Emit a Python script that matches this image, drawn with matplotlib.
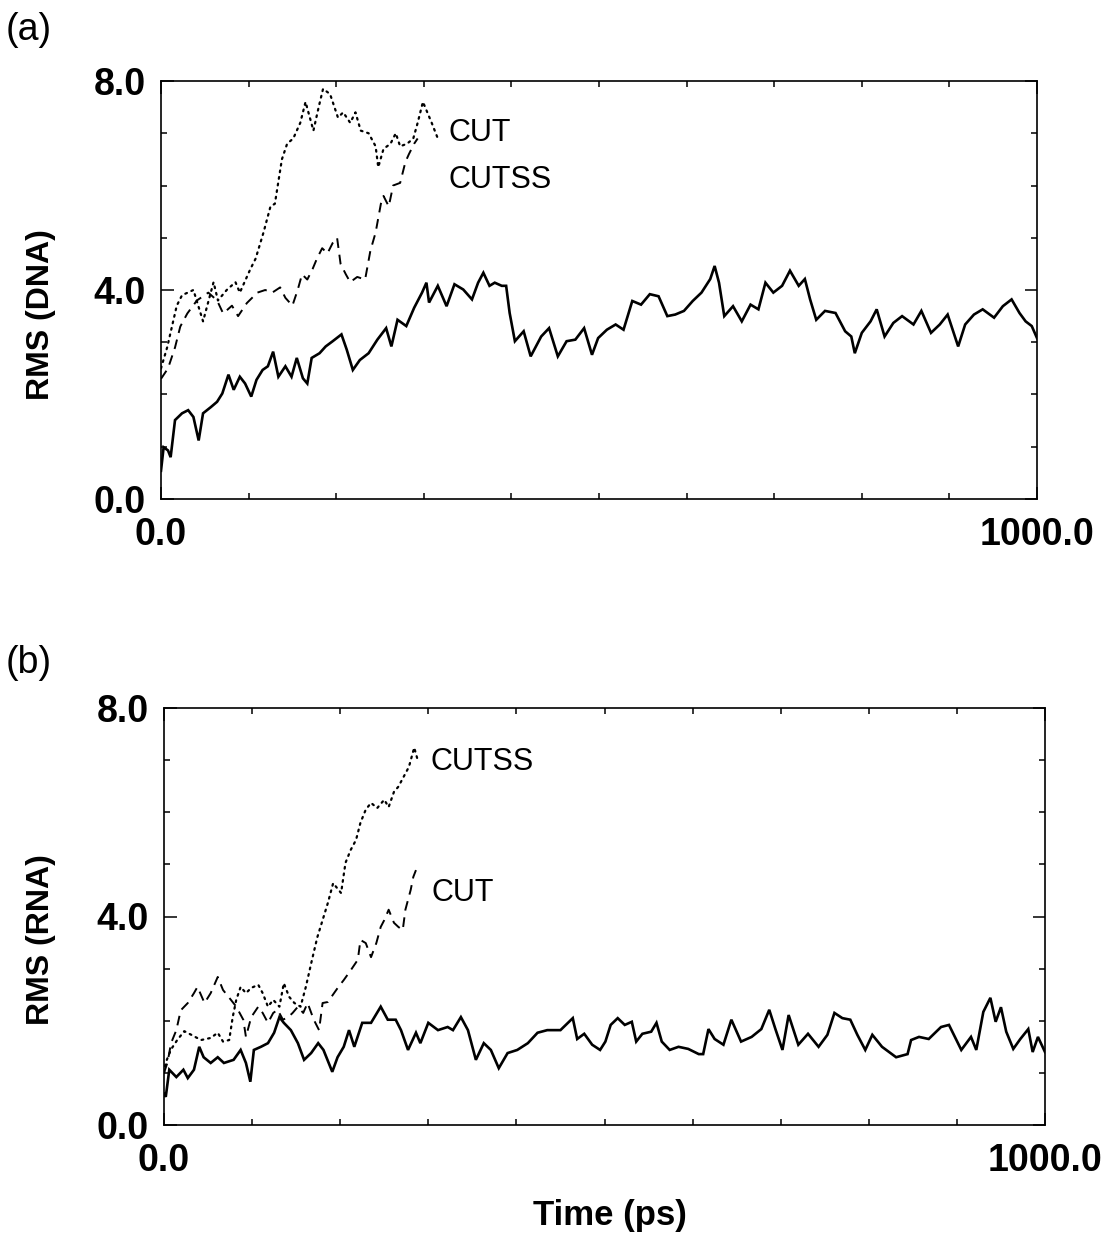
import matplotlib
matplotlib.use("Agg")
import matplotlib.pyplot as plt
from matplotlib.ticker import MultipleLocator, FixedLocator, FixedFormatter

plt.rcParams['font.family'] = ['Liberation Sans', 'DejaVu Sans']

# ---------------- Panel (a): DNA ----------------
a_solid_t = [0, 3, 8, 11, 16, 24, 31, 37, 43, 48, 57, 64, 70, 77, 83, 90, 96, 103, 109, 116,
             122, 128, 134, 142, 149, 155, 162, 167, 172, 181, 188, 196, 206, 212, 219, 227,
             237, 247, 257, 263, 270, 280, 289, 298, 303, 306, 316, 326, 335, 345, 355, 362,
             368, 375, 381, 389, 394, 398, 404, 414, 422, 434, 443, 453, 463, 473, 483, 492,
             499, 509, 519, 528, 538, 548, 558, 568, 578, 587, 597, 607, 617, 627, 632, 637,
             643, 653, 663, 673, 682, 690, 699, 709, 718, 728, 735, 741, 748, 758, 770, 781,
             788, 792, 800, 810, 817, 826, 836, 846, 859, 868, 879, 889, 898, 910, 918, 928,
             938, 951, 961, 971, 980, 987, 994, 1000]
a_solid_v = [0.54, 0.99, 0.93, 0.80, 1.51, 1.64, 1.70, 1.57, 1.12, 1.64, 1.76, 1.86, 2.02, 2.38,
             2.09, 2.34, 2.21, 1.96, 2.28, 2.47, 2.54, 2.82, 2.34, 2.54, 2.34, 2.70, 2.31, 2.21,
             2.70, 2.79, 2.92, 3.02, 3.15, 2.86, 2.47, 2.66, 2.79, 3.05, 3.27, 2.92, 3.43, 3.31,
             3.66, 3.95, 4.14, 3.76, 4.08, 3.69, 4.11, 4.01, 3.82, 4.14, 4.33, 4.08, 4.14, 4.08,
             4.08, 3.56, 3.02, 3.21, 2.73, 3.11, 3.27, 2.73, 3.02, 3.05, 3.27, 2.76, 3.08, 3.24,
             3.34, 3.24, 3.79, 3.72, 3.92, 3.88, 3.50, 3.53, 3.60, 3.79, 3.95, 4.21, 4.46, 4.14,
             3.50, 3.69, 3.40, 3.72, 3.63, 4.14, 3.95, 4.08, 4.37, 4.08, 4.21, 3.82, 3.43, 3.60,
             3.56, 3.21, 3.11, 2.79, 3.18, 3.40, 3.63, 3.11, 3.37, 3.50, 3.34, 3.60, 3.18, 3.34,
             3.53, 2.92, 3.34, 3.53, 3.63, 3.47, 3.69, 3.82, 3.56, 3.40, 3.31, 3.08]

a_cut_t = [0, 7, 18, 24, 37, 48, 60, 65, 75, 85, 90, 102, 108, 117, 125, 130, 138, 144, 151,
           159, 165, 174, 180, 185, 193, 202, 208, 216, 222, 228, 237, 245, 248, 254, 262, 268,
           273, 281, 288, 293, 299, 304, 309, 316]
a_cut_v = [2.5, 2.9, 3.7, 3.9, 4.0, 3.4, 4.15, 3.8, 4.0, 4.15, 3.95, 4.4, 4.6, 5.1, 5.6, 5.65,
           6.5, 6.8, 6.9, 7.2, 7.6, 7.05, 7.5, 7.85, 7.75, 7.3, 7.4, 7.2, 7.4, 7.05, 7.0, 6.75,
           6.35, 6.7, 6.8, 7.0, 6.75, 6.8, 6.9, 7.2, 7.6, 7.4, 7.2, 6.9]

a_cutss_t = [0, 8, 16, 22, 30, 41, 54, 64, 71, 81, 88, 98, 110, 119, 127, 136, 142, 150, 156,
             161, 167, 173, 178, 184, 190, 196, 201, 205, 211, 216, 224, 233, 239, 245, 251,
             254, 260, 265, 273, 279, 283, 289, 293]
a_cutss_v = [2.3, 2.5, 2.9, 3.3, 3.55, 3.8, 3.95, 3.8, 3.55, 3.7, 3.5, 3.75, 3.95, 4.0, 3.95,
             4.05, 3.85, 3.7, 4.0, 4.3, 4.2, 4.4, 4.6, 4.8, 4.7, 4.9, 5.0, 4.5, 4.3, 4.15, 4.25,
             4.2, 4.75, 5.1, 5.65, 5.8, 5.6, 6.0, 6.05, 6.45, 6.6, 6.8, 6.9]

# ---------------- Panel (b): RNA ----------------
b_solid_t = [0, 2, 6, 14, 22, 27, 34, 40, 45, 53, 61, 68, 79, 87, 93, 98, 102, 110, 118, 125,
             131, 136, 144, 152, 159, 167, 175, 181, 191, 197, 204, 210, 216, 225, 235, 246,
             254, 263, 269, 277, 286, 291, 300, 311, 322, 328, 337, 345, 354, 363, 371, 380,
             390, 401, 413, 424, 435, 450, 464, 469, 477, 486, 495, 501, 507, 515, 523, 531,
             536, 543, 553, 559, 565, 574, 584, 595, 607, 612, 618, 625, 635, 644, 655, 667,
             678, 687, 694, 702, 709, 720, 731, 743, 753, 761, 770, 779, 787, 796, 804, 815,
             831, 844, 848, 857, 868, 882, 891, 905, 916, 922, 930, 938, 944, 950, 956, 964,
             972, 981, 986, 992, 1000]
b_solid_v = [0.6, 0.54, 1.06, 0.92, 1.06, 0.90, 1.06, 1.50, 1.30, 1.19, 1.30, 1.19, 1.25, 1.44,
             1.19, 0.83, 1.44, 1.50, 1.57, 1.77, 2.07, 1.96, 1.82, 1.57, 1.25, 1.38, 1.57, 1.44,
             1.02, 1.30, 1.50, 1.82, 1.50, 1.96, 1.96, 2.27, 2.02, 2.02, 1.82, 1.44, 1.77, 1.57,
             1.96, 1.82, 1.88, 1.82, 2.07, 1.82, 1.25, 1.57, 1.44, 1.09, 1.38, 1.44, 1.57, 1.77,
             1.82, 1.82, 2.05, 1.65, 1.75, 1.54, 1.44, 1.60, 1.92, 2.05, 1.92, 1.98, 1.60, 1.75,
             1.79, 1.96, 1.60, 1.44, 1.50, 1.46, 1.36, 1.36, 1.84, 1.65, 1.54, 2.02, 1.60, 1.69,
             1.84, 2.21, 1.84, 1.44, 2.11, 1.54, 1.75, 1.50, 1.73, 2.15, 2.05, 2.02, 1.73, 1.44,
             1.73, 1.50, 1.30, 1.36, 1.63, 1.69, 1.65, 1.88, 1.92, 1.44, 1.69, 1.44, 2.17, 2.44,
             1.98, 2.26, 1.79, 1.46, 1.65, 1.84, 1.40, 1.69, 1.40]

b_cutss_t = [0, 2, 8, 15, 23, 31, 42, 53, 61, 67, 74, 78, 82, 87, 93, 99, 107, 112, 118, 124,
             131, 136, 142, 148, 155, 161, 168, 174, 180, 186, 192, 201, 206, 212, 218, 223,
             229, 235, 242, 250, 255, 261, 266, 272, 278, 284, 288]
b_cutss_v = [1.0, 1.2, 1.45, 1.63, 1.8, 1.73, 1.63, 1.67, 1.77, 1.6, 1.63, 2.07, 2.4, 2.65,
             2.53, 2.63, 2.69, 2.53, 2.27, 2.4, 2.27, 2.72, 2.46, 2.34, 2.27, 2.65, 3.17, 3.6,
             3.93, 4.26, 4.64, 4.45, 5.03, 5.28, 5.47, 5.8, 6.05, 6.18, 6.08, 6.24, 6.1, 6.39,
             6.49, 6.68, 6.87, 7.24, 7.0]

b_cut_t = [0, 4, 8, 14, 19, 27, 34, 38, 46, 53, 61, 67, 76, 82, 90, 93, 99, 107, 112, 118,
           124, 129, 135, 141, 146, 152, 158, 163, 170, 176, 180, 186, 193, 198, 204, 212, 220,
           223, 229, 235, 241, 246, 250, 255, 261, 266, 271, 274, 280, 283, 286]
b_cut_v = [1.0, 1.2, 1.57, 1.82, 2.2, 2.34, 2.53, 2.65, 2.34, 2.53, 2.84, 2.59, 2.4, 2.27,
           2.02, 1.69, 2.07, 2.27, 2.15, 1.96, 2.15, 2.21, 2.02, 2.07, 2.15, 2.27, 2.15, 2.34,
           2.02, 1.82, 2.34, 2.36, 2.53, 2.65, 2.78, 2.97, 3.17, 3.55, 3.49, 3.22, 3.49, 3.8,
           3.93, 4.13, 3.88, 3.8, 3.74, 4.13, 4.51, 4.76, 4.89]

x_ticklabels = ["0.0", "1000.0"]
y_ticklabels = ["0.0", "4.0", "8.0"]

W, H = 1111, 1238
fig = plt.figure(figsize=(W / 100, H / 100), dpi=100)

def frac(l, t, r, b):
    return [l / W, 1 - b / H, (r - l) / W, (b - t) / H]

ax_a = fig.add_axes(frac(161, 81, 1037, 499))
ax_b = fig.add_axes(frac(164, 708, 1045, 1125))

solid_kw = dict(color='black', lw=1.9, solid_joinstyle='miter')
dot_kw = dict(color='black', lw=1.6, linestyle=(0, (0.8, 2.2)), dash_capstyle='round')
dash_kw = dict(color='black', lw=1.4, linestyle=(0, (5, 3.5)))

ax_a.plot(a_solid_t, a_solid_v, **solid_kw)
ax_a.plot(a_cut_t, a_cut_v, **dot_kw)
ax_a.plot(a_cutss_t, a_cutss_v, **dash_kw)
ax_a.text(328, 7.0, "CUT", fontsize=22, va='center', ha='left')
ax_a.text(328, 6.1, "CUTSS", fontsize=22, va='center', ha='left')

ax_b.plot(b_solid_t, b_solid_v, **solid_kw)
ax_b.plot(b_cutss_t, b_cutss_v, **dot_kw)
ax_b.plot(b_cut_t, b_cut_v, **dash_kw)
ax_b.text(302, 6.97, "CUTSS", fontsize=22, va='center', ha='left')
ax_b.text(304, 4.45, "CUT", fontsize=22, va='center', ha='left')

for ax in (ax_a, ax_b):
    ax.set_xlim(0, 1000)
    ax.set_ylim(0, 8)
    ax.xaxis.set_major_locator(FixedLocator([0, 1000]))
    ax.xaxis.set_major_formatter(FixedFormatter(x_ticklabels))
    ax.yaxis.set_major_locator(FixedLocator([0, 4, 8]))
    ax.yaxis.set_major_formatter(FixedFormatter(y_ticklabels))
    ax.xaxis.set_minor_locator(MultipleLocator(100))
    ax.yaxis.set_minor_locator(MultipleLocator(1))
    ax.tick_params(which='both', direction='in', top=True, right=True, width=1.1)
    ax.tick_params(which='major', length=9)
    ax.tick_params(which='minor', length=4.5)
    ax.tick_params(axis='y', which='major', pad=11, labelsize=27)
    ax.tick_params(axis='x', which='major', pad=13, labelsize=27)
    for lab in ax.get_xticklabels() + ax.get_yticklabels():
        lab.set_fontweight('bold')
    for sp in ax.spines.values():
        sp.set_linewidth(1.2)

fig.text(41 / W, 1 - 315 / H, "RMS (DNA)", rotation=90, ha='center', va='center',
         fontsize=23, fontweight='bold')
fig.text(41 / W, 1 - 940 / H, "RMS (RNA)", rotation=90, ha='center', va='center',
         fontsize=23, fontweight='bold')
fig.text(610 / W, 1 - 1215 / H, "Time (ps)", ha='center', va='center',
         fontsize=25, fontweight='bold')
fig.text(6 / W, 1 - 30 / H, "(a)", ha='left', va='center', fontsize=27)
fig.text(6 / W, 1 - 663 / H, "(b)", ha='left', va='center', fontsize=27)

fig.savefig("out.png", dpi=100, facecolor='white')
